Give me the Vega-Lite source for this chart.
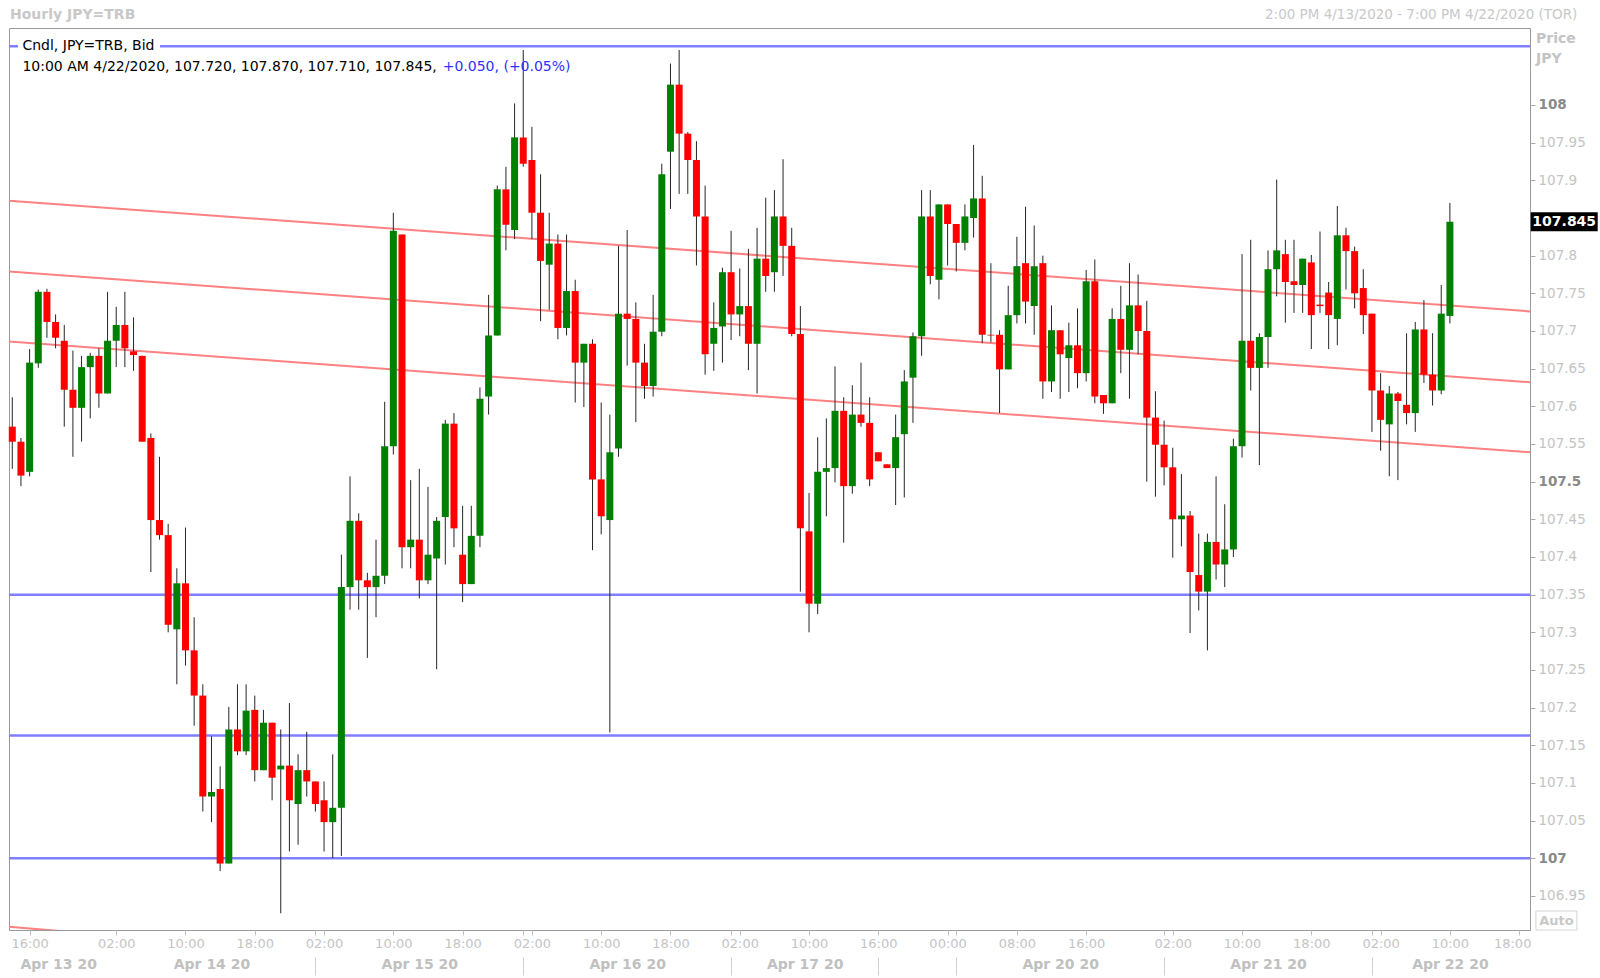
{
"$schema":"https://vega.github.io/schema/vega-lite/v6.json",
"width":1521,"height":902,
"autosize":{"type":"none"},
"padding":{"left":9,"top":28,"right":70,"bottom":48},
"background":"#ffffff",
"config":{"view":{"stroke":"#9a9a9a","strokeWidth":1},"font":"DejaVu Sans","scale":{"continuousPadding":0}},
"datasets":{
"hlines":[{"p":108.078},{"p":107.35},{"p":107.163},{"p":107.0}],
"trend":[
{"id":"a","t":-0.38,"p":107.873},{"id":"a","t":175.25,"p":107.726},
{"id":"b","t":-0.38,"p":107.779},{"id":"b","t":175.25,"p":107.632},
{"id":"c","t":-0.38,"p":107.686},{"id":"c","t":175.25,"p":107.539},
{"id":"d","t":-0.38,"p":106.909},{"id":"d","t":6.0,"p":106.903}],
"candles":[
{"t":0,"o":107.573,"h":107.612,"l":107.517,"c":107.553},
{"t":1,"o":107.553,"h":107.558,"l":107.494,"c":107.508},
{"t":2,"o":107.513,"h":107.676,"l":107.507,"c":107.658},
{"t":3,"o":107.657,"h":107.755,"l":107.651,"c":107.752},
{"t":4,"o":107.752,"h":107.756,"l":107.691,"c":107.712},
{"t":5,"o":107.712,"h":107.722,"l":107.677,"c":107.691},
{"t":6,"o":107.687,"h":107.708,"l":107.573,"c":107.622},
{"t":7,"o":107.622,"h":107.674,"l":107.533,"c":107.598},
{"t":8,"o":107.598,"h":107.667,"l":107.553,"c":107.652},
{"t":9,"o":107.652,"h":107.671,"l":107.584,"c":107.667},
{"t":10,"o":107.667,"h":107.677,"l":107.598,"c":107.617},
{"t":11,"o":107.617,"h":107.752,"l":107.617,"c":107.687},
{"t":12,"o":107.687,"h":107.732,"l":107.652,"c":107.708},
{"t":13,"o":107.708,"h":107.752,"l":107.652,"c":107.677},
{"t":14,"o":107.673,"h":107.718,"l":107.647,"c":107.668},
{"t":15,"o":107.667,"h":107.667,"l":107.553,"c":107.553},
{"t":16,"o":107.558,"h":107.564,"l":107.380,"c":107.449},
{"t":17,"o":107.449,"h":107.533,"l":107.423,"c":107.429},
{"t":18,"o":107.429,"h":107.444,"l":107.300,"c":107.310},
{"t":19,"o":107.304,"h":107.385,"l":107.231,"c":107.365},
{"t":20,"o":107.365,"h":107.439,"l":107.256,"c":107.276},
{"t":21,"o":107.276,"h":107.320,"l":107.176,"c":107.216},
{"t":22,"o":107.216,"h":107.231,"l":107.062,"c":107.082},
{"t":23,"o":107.082,"h":107.162,"l":107.048,"c":107.088},
{"t":24,"o":107.092,"h":107.122,"l":106.983,"c":106.993},
{"t":25,"o":106.993,"h":107.201,"l":106.993,"c":107.171},
{"t":26,"o":107.171,"h":107.231,"l":107.137,"c":107.142},
{"t":27,"o":107.142,"h":107.231,"l":107.137,"c":107.196},
{"t":28,"o":107.197,"h":107.216,"l":107.102,"c":107.117},
{"t":29,"o":107.117,"h":107.197,"l":107.117,"c":107.180},
{"t":30,"o":107.180,"h":107.180,"l":107.077,"c":107.107},
{"t":31,"o":107.118,"h":107.171,"l":106.927,"c":107.123},
{"t":32,"o":107.123,"h":107.206,"l":107.009,"c":107.077},
{"t":33,"o":107.072,"h":107.138,"l":107.018,"c":107.117},
{"t":34,"o":107.117,"h":107.168,"l":107.082,"c":107.102},
{"t":35,"o":107.102,"h":107.102,"l":107.062,"c":107.072},
{"t":36,"o":107.077,"h":107.102,"l":107.009,"c":107.048},
{"t":37,"o":107.048,"h":107.138,"l":107.000,"c":107.067},
{"t":38,"o":107.067,"h":107.403,"l":107.003,"c":107.360},
{"t":39,"o":107.360,"h":107.507,"l":107.330,"c":107.448},
{"t":40,"o":107.448,"h":107.458,"l":107.330,"c":107.369},
{"t":41,"o":107.369,"h":107.379,"l":107.266,"c":107.360},
{"t":42,"o":107.360,"h":107.423,"l":107.320,"c":107.375},
{"t":43,"o":107.375,"h":107.606,"l":107.364,"c":107.547},
{"t":44,"o":107.547,"h":107.857,"l":107.536,"c":107.833},
{"t":45,"o":107.828,"h":107.828,"l":107.385,"c":107.413},
{"t":46,"o":107.413,"h":107.502,"l":107.385,"c":107.423},
{"t":47,"o":107.423,"h":107.517,"l":107.345,"c":107.369},
{"t":48,"o":107.369,"h":107.493,"l":107.364,"c":107.403},
{"t":49,"o":107.398,"h":107.453,"l":107.251,"c":107.448},
{"t":50,"o":107.453,"h":107.582,"l":107.390,"c":107.577},
{"t":51,"o":107.577,"h":107.591,"l":107.413,"c":107.438},
{"t":52,"o":107.403,"h":107.468,"l":107.340,"c":107.364},
{"t":53,"o":107.364,"h":107.468,"l":107.364,"c":107.428},
{"t":54,"o":107.428,"h":107.625,"l":107.413,"c":107.610},
{"t":55,"o":107.613,"h":107.748,"l":107.589,"c":107.694},
{"t":56,"o":107.694,"h":107.893,"l":107.694,"c":107.888},
{"t":57,"o":107.888,"h":107.918,"l":107.807,"c":107.841},
{"t":58,"o":107.834,"h":108.002,"l":107.822,"c":107.957},
{"t":59,"o":107.957,"h":108.073,"l":107.918,"c":107.922},
{"t":60,"o":107.927,"h":107.971,"l":107.822,"c":107.857},
{"t":61,"o":107.857,"h":107.908,"l":107.713,"c":107.793},
{"t":62,"o":107.788,"h":107.857,"l":107.728,"c":107.816},
{"t":63,"o":107.816,"h":107.828,"l":107.689,"c":107.704},
{"t":64,"o":107.704,"h":107.828,"l":107.694,"c":107.753},
{"t":65,"o":107.753,"h":107.768,"l":107.605,"c":107.658},
{"t":66,"o":107.658,"h":107.683,"l":107.599,"c":107.683},
{"t":67,"o":107.683,"h":107.689,"l":107.409,"c":107.503},
{"t":68,"o":107.503,"h":107.605,"l":107.430,"c":107.454},
{"t":69,"o":107.449,"h":107.589,"l":107.167,"c":107.539},
{"t":70,"o":107.544,"h":107.813,"l":107.533,"c":107.723},
{"t":71,"o":107.723,"h":107.834,"l":107.654,"c":107.716},
{"t":72,"o":107.716,"h":107.738,"l":107.579,"c":107.658},
{"t":73,"o":107.658,"h":107.683,"l":107.610,"c":107.627},
{"t":74,"o":107.627,"h":107.748,"l":107.613,"c":107.699},
{"t":75,"o":107.699,"h":107.922,"l":107.693,"c":107.908},
{"t":76,"o":107.938,"h":108.055,"l":107.862,"c":108.027},
{"t":77,"o":108.027,"h":108.073,"l":107.882,"c":107.962},
{"t":78,"o":107.962,"h":107.964,"l":107.882,"c":107.927},
{"t":79,"o":107.927,"h":107.952,"l":107.787,"c":107.852},
{"t":80,"o":107.852,"h":107.893,"l":107.642,"c":107.669},
{"t":81,"o":107.683,"h":107.738,"l":107.647,"c":107.704},
{"t":82,"o":107.706,"h":107.784,"l":107.658,"c":107.778},
{"t":83,"o":107.778,"h":107.833,"l":107.688,"c":107.722},
{"t":84,"o":107.722,"h":107.783,"l":107.693,"c":107.733},
{"t":85,"o":107.733,"h":107.809,"l":107.648,"c":107.683},
{"t":86,"o":107.683,"h":107.837,"l":107.617,"c":107.796},
{"t":87,"o":107.796,"h":107.877,"l":107.752,"c":107.773},
{"t":88,"o":107.778,"h":107.887,"l":107.752,"c":107.852},
{"t":89,"o":107.852,"h":107.928,"l":107.773,"c":107.813},
{"t":90,"o":107.813,"h":107.837,"l":107.693,"c":107.696},
{"t":91,"o":107.696,"h":107.733,"l":107.354,"c":107.438},
{"t":92,"o":107.434,"h":107.485,"l":107.300,"c":107.338},
{"t":93,"o":107.338,"h":107.559,"l":107.324,"c":107.513},
{"t":94,"o":107.513,"h":107.584,"l":107.454,"c":107.518},
{"t":95,"o":107.518,"h":107.653,"l":107.499,"c":107.594},
{"t":96,"o":107.594,"h":107.612,"l":107.419,"c":107.494},
{"t":97,"o":107.494,"h":107.628,"l":107.484,"c":107.589},
{"t":98,"o":107.589,"h":107.658,"l":107.573,"c":107.578},
{"t":99,"o":107.578,"h":107.612,"l":107.494,"c":107.503},
{"t":100,"o":107.539,"h":107.539,"l":107.527,"c":107.527},
{"t":101,"o":107.523,"h":107.523,"l":107.518,"c":107.518},
{"t":102,"o":107.518,"h":107.589,"l":107.469,"c":107.559},
{"t":103,"o":107.563,"h":107.648,"l":107.479,"c":107.633},
{"t":104,"o":107.638,"h":107.698,"l":107.578,"c":107.693},
{"t":105,"o":107.693,"h":107.887,"l":107.667,"c":107.852},
{"t":106,"o":107.852,"h":107.887,"l":107.762,"c":107.773},
{"t":107,"o":107.768,"h":107.868,"l":107.742,"c":107.868},
{"t":108,"o":107.868,"h":107.868,"l":107.787,"c":107.842},
{"t":109,"o":107.842,"h":107.842,"l":107.779,"c":107.817},
{"t":110,"o":107.817,"h":107.868,"l":107.807,"c":107.852},
{"t":111,"o":107.850,"h":107.947,"l":107.824,"c":107.876},
{"t":112,"o":107.876,"h":107.906,"l":107.684,"c":107.695},
{"t":113,"o":107.695,"h":107.790,"l":107.685,"c":107.694},
{"t":114,"o":107.695,"h":107.701,"l":107.591,"c":107.649},
{"t":115,"o":107.649,"h":107.760,"l":107.649,"c":107.721},
{"t":116,"o":107.721,"h":107.825,"l":107.710,"c":107.786},
{"t":117,"o":107.790,"h":107.865,"l":107.710,"c":107.739},
{"t":118,"o":107.733,"h":107.840,"l":107.695,"c":107.786},
{"t":119,"o":107.790,"h":107.800,"l":107.610,"c":107.633},
{"t":120,"o":107.633,"h":107.734,"l":107.619,"c":107.701},
{"t":121,"o":107.701,"h":107.701,"l":107.610,"c":107.669},
{"t":122,"o":107.664,"h":107.711,"l":107.619,"c":107.681},
{"t":123,"o":107.681,"h":107.730,"l":107.624,"c":107.644},
{"t":124,"o":107.644,"h":107.781,"l":107.633,"c":107.766},
{"t":125,"o":107.766,"h":107.795,"l":107.604,"c":107.613},
{"t":126,"o":107.615,"h":107.615,"l":107.590,"c":107.604},
{"t":127,"o":107.604,"h":107.730,"l":107.604,"c":107.716},
{"t":128,"o":107.716,"h":107.760,"l":107.644,"c":107.675},
{"t":129,"o":107.675,"h":107.790,"l":107.610,"c":107.734},
{"t":130,"o":107.734,"h":107.775,"l":107.669,"c":107.700},
{"t":131,"o":107.700,"h":107.740,"l":107.500,"c":107.585},
{"t":132,"o":107.585,"h":107.620,"l":107.480,"c":107.549},
{"t":133,"o":107.549,"h":107.581,"l":107.495,"c":107.519},
{"t":134,"o":107.519,"h":107.545,"l":107.399,"c":107.450},
{"t":135,"o":107.450,"h":107.510,"l":107.414,"c":107.455},
{"t":136,"o":107.455,"h":107.461,"l":107.299,"c":107.380},
{"t":137,"o":107.376,"h":107.431,"l":107.329,"c":107.354},
{"t":138,"o":107.354,"h":107.431,"l":107.276,"c":107.420},
{"t":139,"o":107.420,"h":107.507,"l":107.370,"c":107.390},
{"t":140,"o":107.390,"h":107.470,"l":107.360,"c":107.410},
{"t":141,"o":107.410,"h":107.557,"l":107.400,"c":107.547},
{"t":142,"o":107.547,"h":107.802,"l":107.532,"c":107.687},
{"t":143,"o":107.687,"h":107.821,"l":107.621,"c":107.651},
{"t":144,"o":107.651,"h":107.697,"l":107.522,"c":107.692},
{"t":145,"o":107.692,"h":107.807,"l":107.651,"c":107.782},
{"t":146,"o":107.782,"h":107.901,"l":107.746,"c":107.807},
{"t":147,"o":107.802,"h":107.821,"l":107.711,"c":107.765},
{"t":148,"o":107.766,"h":107.821,"l":107.724,"c":107.761},
{"t":149,"o":107.761,"h":107.796,"l":107.724,"c":107.796},
{"t":150,"o":107.791,"h":107.801,"l":107.676,"c":107.721},
{"t":151,"o":107.735,"h":107.832,"l":107.724,"c":107.733},
{"t":152,"o":107.751,"h":107.765,"l":107.676,"c":107.721},
{"t":153,"o":107.716,"h":107.866,"l":107.681,"c":107.827},
{"t":154,"o":107.827,"h":107.837,"l":107.755,"c":107.806},
{"t":155,"o":107.806,"h":107.812,"l":107.730,"c":107.750},
{"t":156,"o":107.757,"h":107.782,"l":107.696,"c":107.721},
{"t":157,"o":107.723,"h":107.723,"l":107.566,"c":107.621},
{"t":158,"o":107.621,"h":107.644,"l":107.541,"c":107.582},
{"t":159,"o":107.576,"h":107.627,"l":107.507,"c":107.617},
{"t":160,"o":107.617,"h":107.619,"l":107.502,"c":107.607},
{"t":161,"o":107.602,"h":107.697,"l":107.576,"c":107.591},
{"t":162,"o":107.591,"h":107.712,"l":107.566,"c":107.702},
{"t":163,"o":107.702,"h":107.741,"l":107.631,"c":107.642},
{"t":164,"o":107.642,"h":107.697,"l":107.601,"c":107.621},
{"t":165,"o":107.621,"h":107.761,"l":107.616,"c":107.723},
{"t":166,"o":107.720,"h":107.870,"l":107.710,"c":107.845}
],
"texts":[
{"k":"header","label":"Hourly JPY=TRB"},
{"k":"range","label":"2:00 PM 4/13/2020 - 7:00 PM 4/22/2020 (TOR)"},
{"k":"series","label":"Cndl, JPY=TRB, Bid"},
{"k":"ohlc","label":"10:00 AM 4/22/2020, 107.720, 107.870, 107.710, 107.845,"},
{"k":"chg","label":"+0.050, (+0.05%)"},
{"k":"price","label":"Price"},
{"k":"ccy","label":"JPY"},
{"k":"last","label":"107.845"},
{"k":"auto","label":"Auto"}
]
},
"resolve":{"axis":{"x":"independent","y":"independent"}},
"layer":[
{"data":{"name":"hlines"},"mark":{"type":"rule","color":"#7f7fff","strokeWidth":2.5},
 "encoding":{"y":{"field":"p","type":"quantitative","scale":{"domain":[106.9048,108.1022],"nice":false,"zero":false,"padding":0},"axis":null}}},
{"data":{"values":[{}]},"mark":{"type":"tick","orient":"horizontal","color":"#ffffff","size":142,"thickness":6,"opacity":1},
 "encoding":{"x":{"datum":8.86,"type":"quantitative","axis":null},"y":{"datum":108.078,"type":"quantitative","axis":null}}},
{"data":{"name":"trend"},"mark":{"type":"line","color":"#ff8080","strokeWidth":2,"clip":true},
 "encoding":{
  "x":{"field":"t","type":"quantitative","scale":{"domain":[-0.38,175.25],"nice":false,"zero":false,"padding":0},
   "axis":{"orient":"bottom","offset":27,"values":[5.3,23,35,47,59,71,83,91.5,100,109,121,133,145,157,166],
    "labelExpr":"datum.value == 5.3 ? 'Apr 13 20' : datum.value == 23 ? 'Apr 14 20' : datum.value == 47 ? 'Apr 15 20' : datum.value == 71 ? 'Apr 16 20' : datum.value == 91.5 ? 'Apr 17 20' : datum.value == 121 ? 'Apr 20 20' : datum.value == 145 ? 'Apr 21 20' : datum.value == 166 ? 'Apr 22 20' : ''",
    "domain":false,"grid":false,"title":null,"tickSize":18,"tickColor":"#d0d0d0",
    "tickOpacity":{"condition":{"test":"indexof([35,59,83,100,109,133,157], datum.value) >= 0","value":1},"value":0},
    "labelPadding":-18,"labelFont":"DejaVu Sans","labelFontSize":14,"labelFontWeight":"bold","labelColor":"#c0c0c0",
    "labelOverlap":false,"labelFlush":false,"labelBound":false}},
  "y":{"field":"p","type":"quantitative","axis":null},
  "detail":{"field":"id"}}},
{"data":{"name":"candles"},"mark":{"type":"rule","color":"#262626","strokeWidth":1},
 "encoding":{
  "x":{"field":"t","type":"quantitative","scale":{"domain":[-0.38,175.25],"nice":false,"zero":false,"padding":0},
   "axis":{"orient":"bottom","values":[2,12,20,28,35,36,44,52,59,60,68,76,83,84,92,100,108,109,116,124,133,134,142,150,157,158,166,174],
    "labelExpr":"indexof([2,12,20,28,36,44,52,60,68,76,84,92,100,108,116,124,134,142,150,158,166,174], datum.value) >= 0 ? ['16:00','02:00','10:00','18:00','02:00','10:00','18:00','02:00','10:00','18:00','02:00','10:00','16:00','00:00','08:00','16:00','02:00','10:00','18:00','02:00','10:00','18:00'][indexof([2,12,20,28,36,44,52,60,68,76,84,92,100,108,116,124,134,142,150,158,166,174], datum.value)] : ''",
    "domain":false,"grid":false,"title":null,"tickSize":5,"tickColor":"#c0c0c0",
    "labelPadding":2,"labelFont":"DejaVu Sans","labelFontSize":13,"labelColor":"#c4c4c4",
    "labelOffset":{"condition":{"test":"datum.value == 174","value":-7},"value":0},
    "labelOverlap":false,"labelFlush":false,"labelBound":false}},
  "y":{"field":"l","type":"quantitative","scale":{"domain":[106.9048,108.1022],"nice":false,"zero":false,"padding":0},
   "axis":{"orient":"right","values":[106.95,107,107.05,107.1,107.15,107.2,107.25,107.3,107.35,107.4,107.45,107.5,107.55,107.6,107.65,107.7,107.75,107.8,107.9,107.95,108],
    "labelExpr":"format(datum.value, '.2~f')","domain":false,"grid":false,"title":null,
    "tickSize":5,"tickColor":"#a8a8a8","labelPadding":3,"labelFont":"DejaVu Sans","labelFontSize":13.5,
    "labelFontWeight":{"condition":{"test":"abs(datum.value*2 - round(datum.value*2)) < 0.001","value":"bold"},"value":"normal"},
    "labelColor":{"condition":{"test":"abs(datum.value*2 - round(datum.value*2)) < 0.001","value":"#8a8a8a"},"value":"#c4c4c4"},
    "labelOverlap":false,"labelFlush":false,"labelBaseline":"middle"}},
  "y2":{"field":"h"}}},
{"data":{"name":"candles"},"mark":{"type":"bar","size":7},
 "encoding":{
  "x":{"field":"t","type":"quantitative","axis":null},
  "y":{"field":"o","type":"quantitative","axis":null},
  "y2":{"field":"c"},
  "color":{"condition":{"test":"datum.c >= datum.o","value":"#008000"},"value":"#ff0000"}}},
{"data":{"name":"texts"},"transform":[{"filter":"datum.k == 'header'"}],
 "mark":{"type":"text","align":"left","baseline":"middle","font":"DejaVu Sans","fontSize":14,"fontWeight":"bold","color":"#c8c8c8"},
 "encoding":{"x":{"datum":-0.27,"type":"quantitative","axis":null},"y":{"datum":108.1195,"type":"quantitative","axis":null},"text":{"field":"label"}}},
{"data":{"name":"texts"},"transform":[{"filter":"datum.k == 'range'"}],
 "mark":{"type":"text","align":"right","baseline":"middle","font":"DejaVu Sans","fontSize":13.5,"color":"#c8c8c8"},
 "encoding":{"x":{"datum":180.72,"type":"quantitative","axis":null},"y":{"datum":108.1195,"type":"quantitative","axis":null},"text":{"field":"label"}}},
{"data":{"name":"texts"},"transform":[{"filter":"datum.k == 'series'"}],
 "mark":{"type":"text","align":"left","baseline":"middle","font":"DejaVu Sans","fontSize":14,"color":"#000000"},
 "encoding":{"x":{"datum":1.17,"type":"quantitative","axis":null},"y":{"datum":108.078,"type":"quantitative","axis":null},"text":{"field":"label"}}},
{"data":{"name":"texts"},"transform":[{"filter":"datum.k == 'ohlc'"}],
 "mark":{"type":"text","align":"left","baseline":"middle","font":"DejaVu Sans","fontSize":14,"color":"#000000"},
 "encoding":{"x":{"datum":1.17,"type":"quantitative","axis":null},"y":{"datum":108.0504,"type":"quantitative","axis":null},"text":{"field":"label"}}},
{"data":{"name":"texts"},"transform":[{"filter":"datum.k == 'chg'"}],
 "mark":{"type":"text","align":"left","baseline":"middle","font":"DejaVu Sans","fontSize":14,"color":"#3030ff"},
 "encoding":{"x":{"datum":49.7,"type":"quantitative","axis":null},"y":{"datum":108.0504,"type":"quantitative","axis":null},"text":{"field":"label"}}},
{"data":{"name":"texts"},"transform":[{"filter":"datum.k == 'price'"}],
 "mark":{"type":"text","align":"left","baseline":"middle","font":"DejaVu Sans","fontSize":14,"fontWeight":"bold","color":"#c4c4c4"},
 "encoding":{"x":{"datum":175.95,"type":"quantitative","axis":null},"y":{"datum":108.0879,"type":"quantitative","axis":null},"text":{"field":"label"}}},
{"data":{"name":"texts"},"transform":[{"filter":"datum.k == 'ccy'"}],
 "mark":{"type":"text","align":"left","baseline":"middle","font":"DejaVu Sans","fontSize":14,"fontWeight":"bold","color":"#c4c4c4"},
 "encoding":{"x":{"datum":175.95,"type":"quantitative","axis":null},"y":{"datum":108.0608,"type":"quantitative","axis":null},"text":{"field":"label"}}},
{"data":{"values":[{}]},"mark":{"type":"tick","orient":"horizontal","color":"#000000","size":67,"thickness":19,"opacity":1},
 "encoding":{"x":{"datum":179.2,"type":"quantitative","axis":null},"y":{"datum":107.845,"type":"quantitative","axis":null}}},
{"data":{"name":"texts"},"transform":[{"filter":"datum.k == 'last'"}],
 "mark":{"type":"text","align":"center","baseline":"middle","font":"DejaVu Sans","fontSize":14,"fontWeight":"bold","color":"#ffffff"},
 "encoding":{"x":{"datum":179.2,"type":"quantitative","axis":null},"y":{"datum":107.845,"type":"quantitative","axis":null},"text":{"field":"label"}}},
{"data":{"values":[{}]},"mark":{"type":"tick","orient":"horizontal","filled":false,"stroke":"#d4d4d4","strokeWidth":1,"size":41,"thickness":19,"opacity":1},
 "encoding":{"x":{"datum":178.3,"type":"quantitative","axis":null},"y":{"datum":106.9174,"type":"quantitative","axis":null}}},
{"data":{"name":"texts"},"transform":[{"filter":"datum.k == 'auto'"}],
 "mark":{"type":"text","align":"center","baseline":"middle","font":"DejaVu Sans","fontSize":13,"fontWeight":"bold","color":"#c8c8c8"},
 "encoding":{"x":{"datum":178.3,"type":"quantitative","axis":null},"y":{"datum":106.9174,"type":"quantitative","axis":null},"text":{"field":"label"}}}
]
}
